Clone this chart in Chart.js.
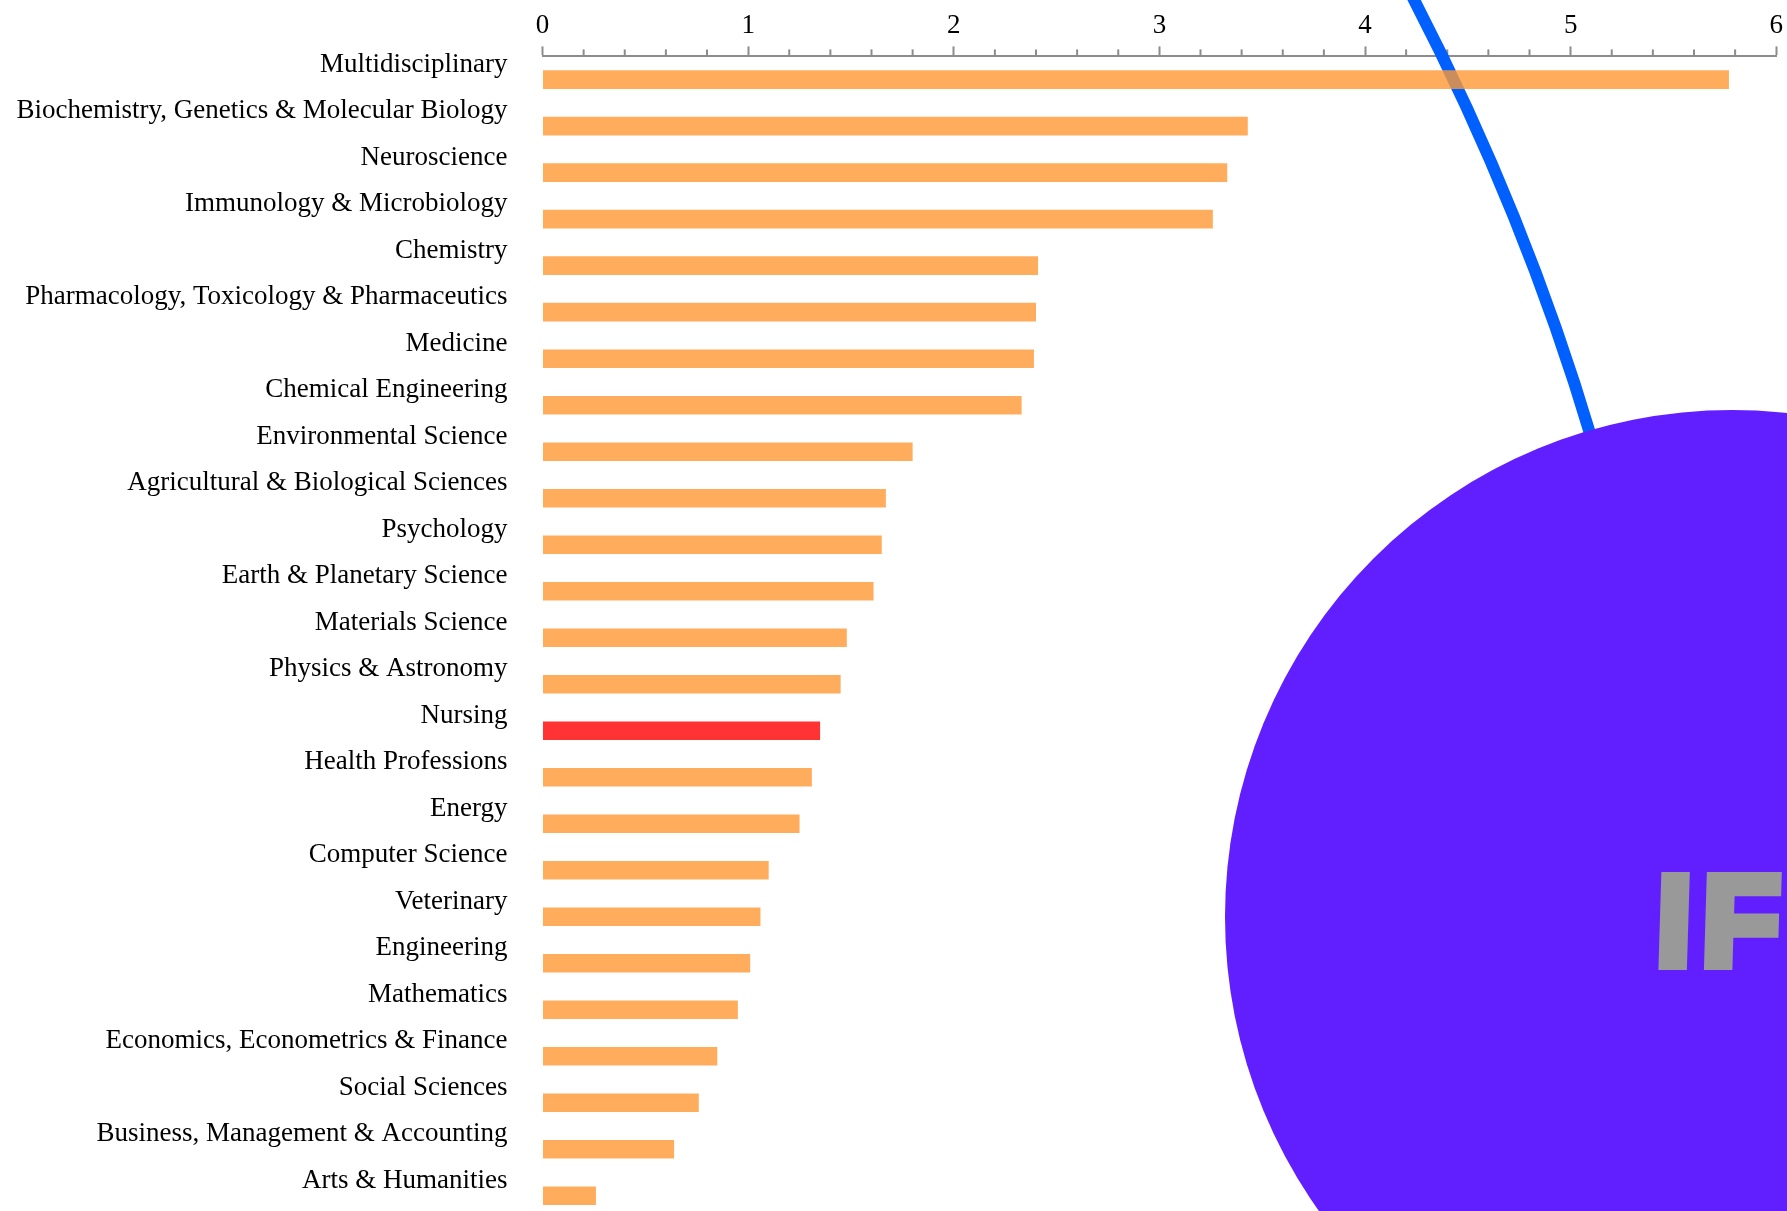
<!DOCTYPE html>
<html>
<head>
<meta charset="utf-8">
<script src="https://cdn.jsdelivr.net/npm/chart.js@4.4.1/dist/chart.umd.min.js"></script>
<style>
  html, body { margin: 0; padding: 0; background: #fff; overflow: hidden; }
  #wrap { position: relative; width: 1787px; height: 1219px; }
</style>
</head>
<body>
<div id="wrap"><canvas id="ifChart"></canvas></div>
<script>
const subjectAreas = [
  "Multidisciplinary",
  "Biochemistry, Genetics & Molecular Biology",
  "Neuroscience",
  "Immunology & Microbiology",
  "Chemistry",
  "Pharmacology, Toxicology & Pharmaceutics",
  "Medicine",
  "Chemical Engineering",
  "Environmental Science",
  "Agricultural & Biological Sciences",
  "Psychology",
  "Earth & Planetary Science",
  "Materials Science",
  "Physics & Astronomy",
  "Nursing",
  "Health Professions",
  "Energy",
  "Computer Science",
  "Veterinary",
  "Engineering",
  "Mathematics",
  "Economics, Econometrics & Finance",
  "Social Sciences",
  "Business, Management & Accounting",
  "Arts & Humanities",
];

const impactValues = [
  5.77, 3.43, 3.33, 3.26, 2.41, 2.40, 2.39, 2.33, 1.80, 1.67, 1.65, 1.61, 1.48,
  1.45, 1.35, 1.31, 1.25, 1.10, 1.06, 1.01, 0.95, 0.85, 0.76, 0.64, 0.26,
];

const axisMin = 0;
const axisMax = 6;
const minorStep = 0.2;
const highlightArea = "Nursing";

const barColors = subjectAreas.map((name) =>
  name === highlightArea ? "rgba(255, 0, 0, 0.8)" : "rgba(255, 153, 51, 0.8)"
);

const axisGray = "#8c8c8c";
const labelFont = { family: "'Liberation Serif', 'Times New Roman', serif", size: 27 };

const isWhole = (v) => Math.abs(v - Math.round(v)) < 1e-6;

// short ticks between the whole numbers, the blue string, and the badge
const decorations = {
  id: "decorations",
  beforeDatasetsDraw(chart) {
    const ctx = chart.ctx;
    const xs = chart.scales.x;
    ctx.save();
    ctx.strokeStyle = axisGray;
    ctx.lineWidth = 2;
    xs.ticks.forEach((t) => {
      if (isWhole(t.value)) return;
      const px = xs.getPixelForValue(t.value);
      ctx.beginPath();
      ctx.moveTo(px, xs.bottom);
      ctx.lineTo(px, xs.bottom - 7);
      ctx.stroke();
    });

    ctx.strokeStyle = "#0060ff";
    ctx.lineWidth = 12;
    ctx.beginPath();
    ctx.moveTo(1411, -6);
    ctx.quadraticCurveTo(1524, 211, 1592, 440);
    ctx.stroke();
    ctx.restore();
  },
  afterDraw(chart) {
    const ctx = chart.ctx;
    ctx.save();
    ctx.fillStyle = "#611fff";
    ctx.beginPath();
    ctx.arc(1732, 917, 507, 0, Math.PI * 2);
    ctx.fill();

    ctx.font = "bold 128px 'Liberation Sans', Arial, sans-serif";
    ctx.textBaseline = "alphabetic";
    ctx.letterSpacing = "10px";
    ctx.fillStyle = "#999999";
    ctx.strokeStyle = "#999999";
    ctx.lineWidth = 10;
    ctx.lineJoin = "miter";
    ctx.translate(1655, 965);
    ctx.transform(1, 0, -0.03, 1, 0, 0);
    ctx.fillText("IF", 0, 0);
    ctx.strokeText("IF", 0, 0);
    ctx.restore();
  },
};

new Chart(document.getElementById("ifChart"), {
  type: "bar",
  data: {
    labels: subjectAreas,
    datasets: [
      {
        data: impactValues,
        backgroundColor: barColors,
        borderWidth: 0,
        barPercentage: 0.4,
        categoryPercentage: 1,
      },
    ],
  },
  options: {
    indexAxis: "y",
    responsive: true,
    maintainAspectRatio: false,
    animation: false,
    layout: {
      padding: { top: 6, right: 10, left: 0, bottom: 0 },
    },
    scales: {
      x: {
        type: "linear",
        position: "top",
        min: axisMin,
        max: axisMax,
        ticks: {
          stepSize: minorStep,
          autoSkip: false,
          maxRotation: 0,
          padding: 4,
          color: "#000",
          font: labelFont,
          callback: (v) => (isWhole(v) ? Math.round(v) : ""),
        },
        grid: {
          drawOnChartArea: false,
          tickLength: 10,
          tickWidth: 2,
          tickColor: (c) => (c.tick && isWhole(c.tick.value) ? axisGray : "rgba(0,0,0,0)"),
        },
        border: { color: axisGray, width: 2 },
      },
      y: {
        type: "category",
        grid: { display: false, drawTicks: false },
        border: { display: false },
        ticks: {
          autoSkip: false,
          padding: 35,
          labelOffset: -15,
          color: "#000",
          font: labelFont,
        },
        afterFit: (scale) => {
          scale.width = 542.5;
          scale.paddingTop = 0;
          scale.paddingBottom = 0;
        },
      },
    },
    plugins: {
      legend: { display: false },
      tooltip: { enabled: false },
    },
  },
  plugins: [decorations],
});
</script>
</body>
</html>
